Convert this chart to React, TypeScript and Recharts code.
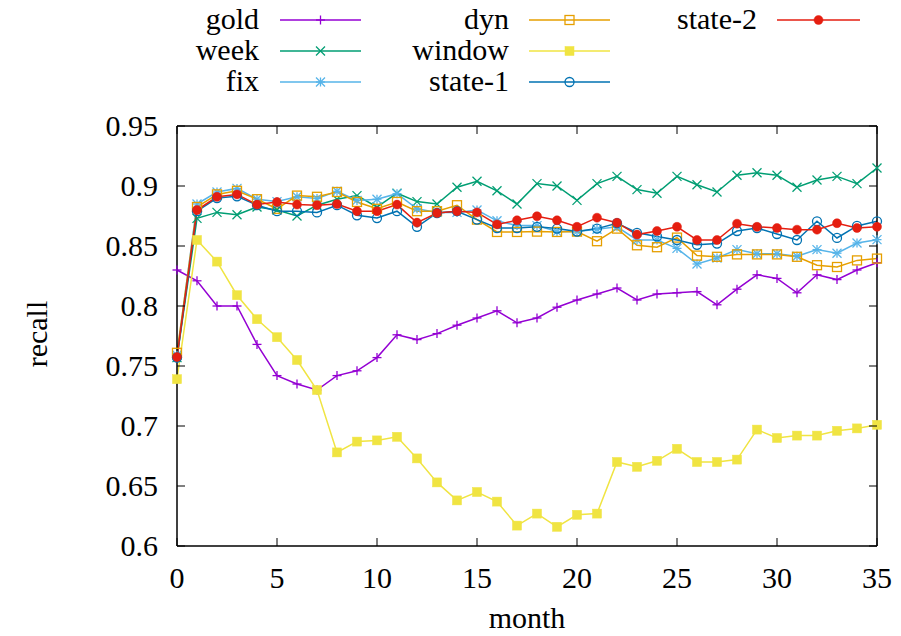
import * as React from "react";
import { LineChart, Line, XAxis, YAxis } from "recharts";

const months = [0, 1, 2, 3, 4, 5, 6, 7, 8, 9, 10, 11, 12, 13, 14, 15, 16, 17, 18, 19, 20, 21, 22, 23, 24, 25, 26, 27, 28, 29, 30, 31, 32, 33, 34, 35];

const gold = [0.83, 0.821, 0.8, 0.8, 0.768, 0.742, 0.735, 0.73, 0.742, 0.746, 0.757, 0.776, 0.772, 0.777, 0.784, 0.79, 0.796, 0.786, 0.79, 0.799, 0.805, 0.81, 0.815, 0.805, 0.81, 0.811, 0.812, 0.801, 0.814, 0.826, 0.823, 0.811, 0.826, 0.822, 0.83, 0.836];
const week = [0.757, 0.873, 0.878, 0.876, 0.8825, 0.88, 0.875, 0.884, 0.889, 0.892, 0.8825, 0.894, 0.887, 0.885, 0.899, 0.904, 0.896, 0.885, 0.902, 0.9, 0.888, 0.902, 0.908, 0.897, 0.894, 0.908, 0.901, 0.895, 0.909, 0.911, 0.909, 0.899, 0.905, 0.908, 0.902, 0.915];
const fix = [0.759, 0.885, 0.895, 0.898, 0.889, 0.887, 0.891, 0.8895, 0.8956, 0.888, 0.889, 0.8936, 0.881, 0.878, 0.878, 0.88, 0.871, 0.867, 0.867, 0.862, 0.862, 0.864, 0.866, 0.855, 0.855, 0.848, 0.835, 0.84, 0.847, 0.8436, 0.8436, 0.8414, 0.847, 0.844, 0.8525, 0.8553];
const dyn = [0.761, 0.8825, 0.893, 0.896, 0.889, 0.881, 0.892, 0.891, 0.895, 0.8867, 0.881, 0.8867, 0.879, 0.879, 0.884, 0.872, 0.8617, 0.8617, 0.862, 0.8617, 0.862, 0.854, 0.8645, 0.8506, 0.849, 0.857, 0.842, 0.841, 0.843, 0.843, 0.843, 0.841, 0.834, 0.8325, 0.838, 0.8395];
const windowS = [0.739, 0.855, 0.837, 0.809, 0.789, 0.774, 0.755, 0.73, 0.678, 0.687, 0.688, 0.691, 0.673, 0.653, 0.638, 0.645, 0.637, 0.617, 0.627, 0.616, 0.626, 0.627, 0.67, 0.666, 0.671, 0.681, 0.67, 0.67, 0.672, 0.697, 0.69, 0.692, 0.692, 0.696, 0.698, 0.701];
const state1 = [0.757, 0.879, 0.89, 0.8914, 0.884, 0.879, 0.879, 0.878, 0.884, 0.8756, 0.8733, 0.879, 0.866, 0.8775, 0.879, 0.872, 0.865, 0.865, 0.866, 0.8645, 0.862, 0.8645, 0.869, 0.861, 0.858, 0.855, 0.851, 0.852, 0.8625, 0.865, 0.86, 0.855, 0.8706, 0.8567, 0.8667, 0.8706];
const state2 = [0.7575, 0.88, 0.891, 0.893, 0.8845, 0.8867, 0.8845, 0.884, 0.885, 0.879, 0.879, 0.8845, 0.8695, 0.8775, 0.879, 0.878, 0.868, 0.8714, 0.8748, 0.8714, 0.866, 0.8736, 0.8694, 0.8595, 0.8625, 0.866, 0.855, 0.855, 0.8686, 0.866, 0.865, 0.8636, 0.8636, 0.869, 0.865, 0.866];

const xTicks = [0, 5, 10, 15, 20, 25, 30, 35];
const yTicks = [0.6, 0.65, 0.7, 0.75, 0.8, 0.85, 0.9, 0.95];

type MarkerKind = "plus" | "cross" | "star" | "square" | "fsquare" | "circle" | "fcircle";

interface SeriesDef {
  key: string;
  name: string;
  color: string;
  marker: MarkerKind;
  values: number[];
}

const series: SeriesDef[] = [
  { key: "gold", name: "gold", color: "#9400d3", marker: "plus", values: gold },
  { key: "week", name: "week", color: "#009e73", marker: "cross", values: week },
  { key: "fix", name: "fix", color: "#56b4e9", marker: "star", values: fix },
  { key: "dyn", name: "dyn", color: "#e69f00", marker: "square", values: dyn },
  { key: "window", name: "window", color: "#f0e442", marker: "fsquare", values: windowS },
  { key: "state1", name: "state-1", color: "#0072b2", marker: "circle", values: state1 },
  { key: "state2", name: "state-2", color: "#e51e10", marker: "fcircle", values: state2 },
];

const data = months.map((m, i) => {
  const row: Record<string, number> = { month: m };
  series.forEach((s) => {
    row[s.key] = s.values[i];
  });
  return row;
});

const txt: React.CSSProperties = {
  fontFamily: "'Liberation Serif', 'Times New Roman', Times, serif",
  fontSize: "30px",
  fill: "#000",
};

function Marker({ kind, cx, cy, color }: { kind: MarkerKind; cx: number; cy: number; color: string }) {
  const s = 4.5;
  const sw = 1.3;
  switch (kind) {
    case "plus":
      return (
        <g stroke={color} strokeWidth={sw}>
          <line x1={cx - s} y1={cy} x2={cx + s} y2={cy} />
          <line x1={cx} y1={cy - s} x2={cx} y2={cy + s} />
        </g>
      );
    case "cross":
      return (
        <g stroke={color} strokeWidth={sw}>
          <line x1={cx - s} y1={cy - s} x2={cx + s} y2={cy + s} />
          <line x1={cx - s} y1={cy + s} x2={cx + s} y2={cy - s} />
        </g>
      );
    case "star":
      return (
        <g stroke={color} strokeWidth={sw}>
          <line x1={cx - s} y1={cy} x2={cx + s} y2={cy} />
          <line x1={cx} y1={cy - s} x2={cx} y2={cy + s} />
          <line x1={cx - s} y1={cy - s} x2={cx + s} y2={cy + s} />
          <line x1={cx - s} y1={cy + s} x2={cx + s} y2={cy - s} />
        </g>
      );
    case "square":
      return <rect x={cx - s} y={cy - s} width={2 * s} height={2 * s} fill="none" stroke={color} strokeWidth={sw} />;
    case "fsquare":
      return <rect x={cx - s} y={cy - s} width={2 * s} height={2 * s} fill={color} stroke={color} strokeWidth={0.5} />;
    case "circle":
      return <circle cx={cx} cy={cy} r={s} fill="none" stroke={color} strokeWidth={sw} />;
    default:
      return <circle cx={cx} cy={cy} r={s} fill={color} stroke={color} strokeWidth={0.5} />;
  }
}

const fmtY = (v: number) => String(Number(v.toFixed(2)));

function BottomTick(props: any) {
  const { x, y, payload } = props;
  return (
    <g>
      <line x1={x} y1={y} x2={x} y2={y - 8} stroke="#000" strokeWidth={1} />
      <text x={x} y={y + 42} textAnchor="middle" style={txt}>
        {payload.value}
      </text>
    </g>
  );
}

function TopTick(props: any) {
  const { x, y } = props;
  return <line x1={x} y1={y} x2={x} y2={y + 8} stroke="#000" strokeWidth={1} />;
}

function LeftTick(props: any) {
  const { x, y, payload } = props;
  return (
    <g>
      <line x1={x} y1={y} x2={x + 8} y2={y} stroke="#000" strokeWidth={1} />
      <text x={x - 19} y={y + 10} textAnchor="end" style={txt}>
        {fmtY(payload.value)}
      </text>
    </g>
  );
}

function RightTick(props: any) {
  const { x, y } = props;
  return <line x1={x} y1={y} x2={x - 8} y2={y} stroke="#000" strokeWidth={1} />;
}

// legend layout: three columns, right-aligned labels with a sample line after each
const legendCols = [
  { textX: 259, lineX1: 280, lineX2: 361 },
  { textX: 509, lineX1: 529, lineX2: 610 },
  { textX: 757, lineX1: 777, lineX2: 860 },
];
const legendRows = [20, 51, 82];

function LegendOverlay() {
  return (
    <svg width={901} height={636} style={{ position: "absolute", left: 0, top: 0, pointerEvents: "none" }}>
      {series.map((s, i) => {
        const col = legendCols[Math.floor(i / 3)];
        const cy = legendRows[i % 3];
        const mx = (col.lineX1 + col.lineX2) / 2;
        return (
          <g key={s.key}>
            <text x={col.textX} y={cy + 9} textAnchor="end" style={txt}>
              {s.name}
            </text>
            <line x1={col.lineX1} y1={cy} x2={col.lineX2} y2={cy} stroke={s.color} strokeWidth={1.5} />
            <Marker kind={s.marker} cx={mx} cy={cy} color={s.color} />
          </g>
        );
      })}
      <text x={47} y={334} textAnchor="middle" transform="rotate(-90 47 334)" style={txt}>
        recall
      </text>
      <text x={527} y={628} textAnchor="middle" style={txt}>
        month
      </text>
    </svg>
  );
}

export default function App() {
  return (
    <div style={{ position: "absolute", left: 0, top: 0, width: 901, height: 636, background: "#fff" }}>
      <LineChart width={901} height={636} data={data} margin={{ top: 0, right: 0, bottom: 0, left: 0 }}>
        <XAxis
          xAxisId="b"
          dataKey="month"
          type="number"
          domain={[0, 35]}
          ticks={xTicks}
          orientation="bottom"
          height={90}
          tickSize={0}
          tickMargin={0}
          tickLine={false}
          axisLine={{ stroke: "#000", strokeWidth: 1.5 }}
          tick={<BottomTick />}
          interval={0}
        />
        <XAxis
          xAxisId="t"
          dataKey="month"
          type="number"
          domain={[0, 35]}
          ticks={xTicks}
          orientation="top"
          height={126}
          tickSize={0}
          tickMargin={0}
          tickLine={false}
          axisLine={{ stroke: "#000", strokeWidth: 1.5 }}
          tick={<TopTick />}
          interval={0}
        />
        <YAxis
          yAxisId="l"
          type="number"
          domain={[0.6, 0.95]}
          ticks={yTicks}
          orientation="left"
          width={177}
          tickSize={0}
          tickMargin={0}
          tickLine={false}
          axisLine={{ stroke: "#000", strokeWidth: 1.5 }}
          tick={<LeftTick />}
          interval={0}
          allowDataOverflow
        />
        <YAxis
          yAxisId="r"
          type="number"
          domain={[0.6, 0.95]}
          ticks={yTicks}
          orientation="right"
          width={24}
          tickSize={0}
          tickMargin={0}
          tickLine={false}
          axisLine={{ stroke: "#000", strokeWidth: 1.5 }}
          tick={<RightTick />}
          interval={0}
          allowDataOverflow
        />
        {series.map((s) => (
          <Line
            key={s.key}
            xAxisId="b"
            yAxisId="l"
            type="linear"
            dataKey={s.key}
            name={s.name}
            stroke={s.color}
            strokeWidth={1.5}
            isAnimationActive={false}
            activeDot={false}
            dot={(p: any) => <Marker key={`${s.key}-${p.index}`} kind={s.marker} cx={p.cx} cy={p.cy} color={s.color} />}
          />
        ))}
      </LineChart>
      <LegendOverlay />
    </div>
  );
}
